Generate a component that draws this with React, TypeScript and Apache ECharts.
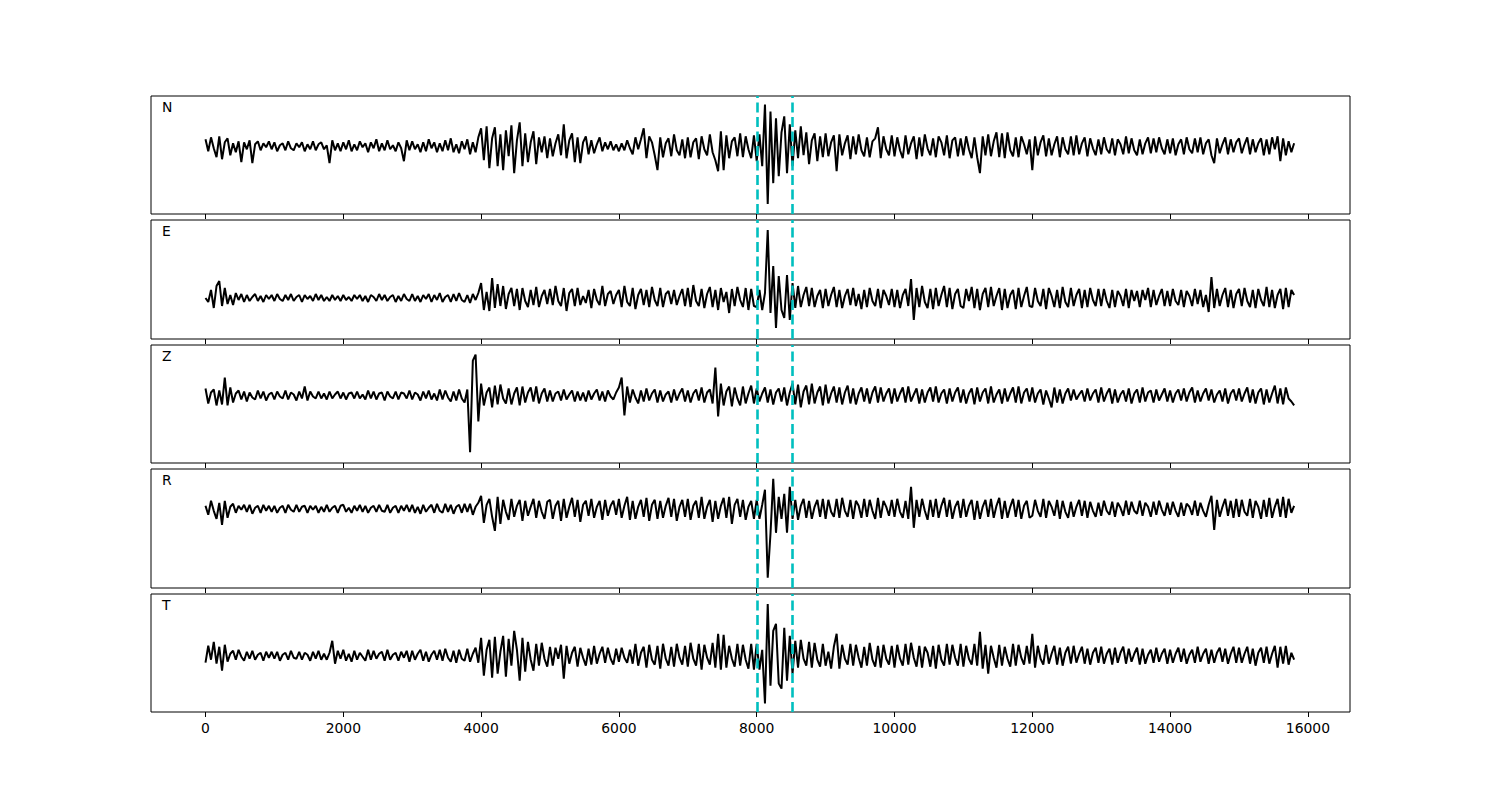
import React, { useEffect, useRef } from "react";
import * as echarts from "echarts";

// Seismogram traces: one value every SAMPLE_STEP samples, deflection
const SAMPLE_STEP = 40;
const CHANNELS = ["N", "E", "Z", "R", "T"];

const N_TRACE = [
  7, -5, 9, -2, -11, 10, -13, 4, 8, -9, 3, -6, 5, -16, 4, -3, 6, -17, 2, 5, -4, 3, -1, 5, -3,
  4, -5, 1, 3, -4, 5, -2, -4, 3, -1, 4, -5, 2, -3, 5, -4, 2, 4, -3, 1, -17, 6, -4, 3, -5,
  4, -3, 6, -5, 2, -4, 5, -1, 3, -6, 4, -2, 7, -5, 3, -4, 6, -3, 1, -5, 4, -2, -15, 6, -4,
  5, -3, 2, -6, 4, -5, 7, -2, 4, -6, 3, -5, 6, -4, 8, -6, 2, -7, 5, -3, 7, -8, 4, -6, 9,
  18, -14, 20, -22, 8, 19, -20, 12, -24, 16, -10, 21, -27, 6, 24, -20, 13, -16, 4, 15, -18, 9, -6, 10, -12,
  8, -10, 3, 12, -9, 22, -12, 6, 13, -16, 9, -17, 4, 10, -8, 6, -7, 2, 9, -5, 4, -3, 5, -4, 2,
  -5, 3, -4, 6, -2, -8, 9, -3, 7, 18, -12, 10, 4, -9, -24, 9, -11, 3, 8, -10, 12, -4, -9, 7, -12,
  9, -11, 4, 8, -13, 10, -3, -9, 12, -6, -14, -25, 15, -24, 11, -12, 5, 9, -10, 13, -11, 10, -3, -12, 11,
  -15, 12, -20, 42, -58, 35, -37, 28, -30, 14, 30, -27, 22, -20, 16, -12, 20, -9, 14, -18, 6, 13, -15, 10, -11,
  13, -10, 4, 11, -25, 12, -9, 3, 11, -13, 10, -8, 12, -4, -10, 9, -11, 5, 8, 19, -12, 10, -3, -9, 11,
  -10, 9, -4, -12, 11, -8, 3, 10, -13, 9, -10, 12, -2, -9, 8, -11, 10, 4, -9, 11, -12, 6, 9, -10, 8,
  -9, 10, -3, -12, 9, -11, -27, 10, -9, 12, -10, 5, 14, -11, 13, -12, 14, -4, -10, 9, -11, 10, 2, -8, 7,
  -24, 10, -9, 4, 11, -10, 8, -9, 2, 10, -11, 9, -3, -8, 10, -9, 11, -8, 3, 9, -10, 8, -2, -9, 7,
  -8, 9, -3, -7, 8, -9, 7, 2, -8, 10, -7, 8, -4, -9, 7, -8, 3, 9, -7, 8, -6, 9, -2, -8, 7,
  -7, 8, -9, 2, 7, -8, 9, -3, -7, 8, -6, 9, -8, 3, 7, -9, -17, 8, -7, 2, 9, -8, 7, -6, 4,
  8, -7, 2, 9, -8, 7, -6, 3, 8, -9, 7, -8, 9, -3, 10, -15, 8, -9, 5, -6, 3,
];

const E_TRACE = [
  0, -4, 8, -10, 12, 17, -8, 10, -6, 3, -7, 5, -2, 4, -4, 3, -3, 1, 4, -3, 2, -4, 3, -1, 3,
  -3, 4, -1, -3, 3, -2, 4, -3, 1, 3, -4, 3, -1, 2, -3, 4, -2, 3, -3, 1, -3, 3, -2, 2, -3,
  3, -2, 1, -3, 3, -1, 3, -3, 2, -4, 3, 1, -3, 4, -2, 3, -3, 1, 3, -4, 2, -3, 4, -1, -3,
  4, -3, 2, -4, 3, -1, 4, -4, 3, -2, 5, -4, 1, 3, -4, 4, -3, 5, -2, -4, 3, -5, 4, -2, 5,
  15, -12, 6, -13, 20, -10, 14, -8, 12, -11, 4, 10, -8, 9, -12, 10, -3, -9, 8, -7, 11, -9, 2, 8, -6,
  9, -7, 12, -3, -8, 10, -13, 5, 9, -8, 10, -7, 2, -5, 8, -10, 9, -2, -7, 12, -8, 4, 7, -6, 3,
  8, -9, 12, -4, -8, 10, -11, 3, 9, -7, 8, -9, 11, -2, -8, 10, -9, 4, 7, -6, 8, -7, 2, 9, -8,
  10, -9, 13, -3, -8, 9, -10, 4, 11, -9, 8, -12, 10, -4, 6, -15, 9, -8, 11, -2, -9, 10, -12, 9, -8,
  -9, 8, -12, 5, 68, -15, 32, -30, 22, -12, -20, 23, -22, 15, -10, 12, -9, 3, 11, -8, 10, -9, 2, 8, -10,
  9, -8, 3, 11, -9, 8, -10, 2, 9, -7, 10, -8, 4, -11, 8, -9, 10, -3, -8, 9, -10, 8, 2, -7, 9,
  -9, 8, -10, 3, 9, -8, 19, -22, 10, -9, 12, -4, -10, 9, -11, 10, -8, 3, 12, -9, 10, -11, 4, 9, -8,
  -10, 9, -3, 11, -10, 9, -12, 4, 10, -9, 11, -8, 2, 10, -12, 9, -10, 3, 8, -11, 10, -9, 2, 11, -8,
  -9, 10, -3, -8, 9, -11, 10, 2, -9, 8, -10, 11, -4, -9, 10, -8, 3, 9, -10, 8, -9, 10, -2, -8, 9,
  -8, 9, -3, -10, 8, -9, 7, 2, -8, 9, -10, 8, -3, 7, -9, 8, -2, 10, -9, 8, -7, 2, 9, -8, 7,
  -8, 9, -3, -7, 8, -9, 7, 2, -8, 9, -6, 8, -9, 3, -14, 21, -10, 9, -8, 3, 10, -9, 8, -10, 4,
  9, -8, 10, -3, -9, 8, -10, 9, -2, -8, 11, -9, 8, -10, 3, 9, -11, 10, -9, 8, 3,
];

const Z_TRACE = [
  7, -8, 3, 6, -10, 5, -9, 18, -10, 8, -7, 2, 5, -4, 4, -6, 3, -2, -4, 5, -3, 4, -5, 1, 3,
  -4, 4, -1, -3, 5, -4, 3, 1, -5, 4, -3, 9, -5, 4, -1, -3, 4, -3, 2, -4, 4, -3, 1, 4, -3,
  3, -4, 2, 3, -3, 4, -3, 1, -4, 5, -3, 4, -4, 2, 3, -5, 4, -1, -3, 4, -4, 3, 2, -3, 5,
  -4, 3, 1, -5, 4, -3, 5, -4, 2, -5, 6, -4, 5, -2, -6, 4, -5, 6, -3, -7, 6, -57, 35, 41, -26,
  12, -10, 3, 8, -12, 10, -9, 11, -3, -8, 7, -9, 2, 8, -10, 9, -7, 3, 8, -6, 9, -8, 2, 7, -6,
  5, -6, 2, 4, -5, 6, -4, 1, 5, -6, 4, -5, 3, -6, 5, -4, 2, 6, -5, 4, -6, 5, -1, -4, 3,
  8, 18, -20, 9, -7, 6, -2, -8, 5, -6, 7, -5, 2, 6, -7, 5, -6, 1, 4, -7, 6, -5, 2, 7, -6,
  5, -7, 2, 6, -5, 8, -7, 3, 6, -8, 28, -21, 12, -10, 4, 9, -11, 8, -3, -10, 9, -8, 2, 10, -8,
  7, -6, 2, 8, -7, 6, -9, 3, 7, -6, 8, -10, 3, 12, -9, 11, -12, 4, 10, -9, 12, -8, 3, 9, -10,
  11, -8, 2, 9, -7, 8, -9, 3, 10, -8, 7, -9, 2, 8, -6, 7, -8, 3, 9, -7, 8, -6, 2, 7, -8,
  7, -6, 2, 8, -7, 9, -6, 1, 7, -8, 6, -7, 3, 8, -6, 9, -7, 2, 6, -8, 7, -6, 3, 8, -7,
  6, -8, 2, 7, -9, 8, -6, 3, 7, -8, 9, -7, 1, 6, -8, 7, -6, 2, 8, -7, 9, -8, 3, 7, -6,
  8, -7, 2, 6, -9, 5, -3, -12, 8, -7, 6, -8, 2, 7, -5, 6, -4, 1, 5, -6, 7, -5, 2, 6, -7,
  8, -6, 2, 7, -8, 6, -7, 1, 5, -6, 7, -8, 2, 6, -7, 8, -6, 3, 5, -7, 6, -5, 1, 7, -6,
  5, -7, 2, 6, -5, 7, -6, 3, 8, -7, 5, -6, 2, 7, -5, 6, -7, 1, 5, -6, 7, -8, 2, 6, -5,
  7, -6, 2, 8, -7, 6, -8, 3, 7, -9, 6, -7, 2, 10, -8, 7, -9, 8, -3, -6, -10,
];

const R_TRACE = [
  3, -6, 8, -2, -10, 6, -16, 8, -9, 2, 5, -4, 3, -1, 4, -3, 4, -5, 1, 3, -4, 4, -2, 3, -3,
  3, -4, 1, 3, -4, 4, -1, -3, 4, -3, 2, 3, -4, 3, -1, 3, -4, 2, -3, 4, -3, 1, 3, -4, 3,
  4, -3, 1, -4, 3, -2, 4, -3, 3, -4, 1, 3, -3, 4, -2, -3, 4, -4, 1, 3, -4, 3, -2, 4, -3,
  4, -4, 2, -5, 4, -3, 1, 4, -4, 5, -2, -4, 5, -3, 4, -5, 2, 4, -4, 5, -3, 5, -6, 2, 6,
  13, -14, 4, 10, -8, -22, 12, -15, 9, -3, -11, 10, -8, 3, 9, -12, 8, -7, 2, 10, -9, 8, -3, -10, 7,
  9, -10, 3, 8, -12, 10, -9, 2, 11, -8, 9, -13, 4, 8, -7, 10, -9, 2, 8, -11, 9, -7, 3, 8, -6,
  10, -9, 3, 12, -11, 8, -10, 2, 9, -8, 11, -12, 4, 9, -10, 8, -9, 3, 11, -8, 10, -12, 2, 9, -8,
  10, -11, 3, 8, -9, 12, -10, 2, 9, -13, 8, -10, 3, 11, -9, 12, -15, 4, 10, -8, 9, -11, 2, 8, -10,
  9, -10, 4, 19, -69, -25, 30, -24, 12, -10, 15, -24, 22, -10, 9, -11, 3, 10, -9, 8, -10, 2, 9, -8, 10,
  -10, 9, -3, -8, 10, -9, 11, -2, -8, 9, -10, 8, 3, -9, 10, -8, 9, -2, -10, 11, -9, 8, 2, -7, 9,
  -8, 10, -3, -9, 8, -10, 22, -19, 9, -8, 10, -2, -11, 9, -8, 10, -9, 3, 11, -8, 9, -10, 2, 8, -9,
  10, -8, 3, 9, -11, 8, -10, 2, 9, -8, 10, -9, 3, 11, -10, 8, -9, 2, 10, -8, 9, -10, 3, 8, -9,
  -7, 9, -2, -8, 10, -9, 8, 2, -7, 9, -10, 8, -3, -9, 7, -8, 2, 9, -7, 8, -9, 7, -2, -8, 6,
  -7, 8, -2, -6, 7, -8, 6, 1, -7, 8, -6, 7, -2, -5, 8, -7, 6, 2, -8, 7, -6, 8, -1, -7, 6,
  -6, 7, -2, -8, 6, -7, 5, 2, -6, 8, -7, 6, -2, -8, 4, 13, -21, 9, -8, 2, 10, -7, 8, -9, 10,
  -8, 9, -3, -7, 10, -9, 8, 2, -10, 9, -8, 11, -9, 2, 10, -8, 12, -9, 10, -4, 3,
];

const T_TRACE = [
  -7, 10, -4, 14, -8, 9, -15, 11, -6, 2, 5, -4, 6, -1, -5, 4, -3, 5, -4, 1, 3, -5, 4, -2, 4,
  -3, 4, -5, 1, 3, -4, 5, -2, -3, 4, -4, 3, 1, -5, 4, -3, 5, -4, 2, -4, 3, 15, -8, 5, -3,
  6, -5, 2, -6, 5, -4, 3, -1, -5, 6, -4, 5, -3, 2, 4, -5, 6, -4, 1, 3, -5, 4, -2, 5, -6,
  5, -4, 2, 6, -5, 4, -6, 1, 5, -4, 6, -5, 7, -2, -6, 5, -7, 6, -3, -5, 7, -6, 2, 8, -7,
  18, -20, 6, 16, -22, 19, -18, 4, 20, -21, 17, -10, 25, 6, -25, 18, -16, 14, -4, -15, 12, -10, 13, -3, -11,
  9, -10, 8, -3, 11, -23, 10, -8, 3, 9, -11, 8, -2, -10, 7, -9, 10, -8, 2, 9, -7, 8, -3, -9, 7,
  -6, 8, -2, -7, 6, -8, 12, -10, 3, 9, -12, 11, -4, -9, 10, -13, 12, -3, -10, 9, -11, 12, -2, -9, 10,
  -11, 13, -3, -10, 12, -14, 11, -2, -9, 13, -12, 22, -14, 21, -12, 10, -3, -11, 12, -10, 11, -4, -13, 12, -14,
  12, -14, 6, -48, 52, -30, 25, 32, -28, -33, 28, -25, 20, -18, 15, -12, 16, -3, -10, 14, -12, 13, -4, -11, 12,
  -10, 4, -13, 9, 22, -13, 11, -3, -9, 12, -10, 11, -2, -12, 9, -10, 13, -4, -11, 10, -12, 11, -3, -9, 10,
  -12, 11, -3, -10, 12, -9, 13, -2, -11, 10, -12, 9, 3, -11, 10, -13, 11, -4, -10, 12, -9, 11, -2, -10, 12,
  -11, 10, -3, -9, 12, -10, 24, -13, 11, -18, 10, -2, -12, 11, -10, 9, -3, -11, 12, -10, 11, -2, -9, 10, -8,
  22, -12, 10, -3, -9, 11, -8, 2, 10, -9, 8, -10, 3, 9, -8, 10, -7, 2, 9, -8, 7, -9, 3, 8, -7,
  9, -8, 2, 7, -9, 8, -7, 3, 9, -8, 7, -6, 2, 8, -9, 7, -8, 1, 6, -7, 8, -6, 2, 7, -8,
  6, -7, 2, 8, -6, 7, -8, 1, 6, -7, 9, -6, 2, 7, -8, 6, -7, 3, 8, -6, 7, -8, 2, 9, -7,
  8, -7, 2, 9, -8, 7, -10, 3, 8, -7, 9, -8, 2, 10, -12, 9, -8, 10, -9, 3, -4,
];

const TRACES = [N_TRACE, E_TRACE, Z_TRACE, R_TRACE, T_TRACE];
// Phase picks (dashed cyan lines)
const PICKS = [8010, 8515];
const X_TICKS = [0, 2000, 4000, 6000, 8000, 10000, 12000, 14000, 16000];
const X_RANGE = [-791, 16611];
const Y_RANGES = [
  [-68, 50.5],
  [-41, 78],
  [-67.8, 50.7],
  [-79.2, 39.8],
  [-56.5, 62],
];

// layout
const PANEL_TOPS = [96, 220, 345, 469, 594];
const PANEL_HEIGHTS = [118, 119, 118, 119, 118];
const FONT = "DejaVu Sans";

export default function App() {
  const ref = useRef<HTMLDivElement>(null);
  useEffect(() => {
    if (!ref.current) return;
    const chart = echarts.init(ref.current, undefined, { renderer: "svg" });
    const grids = PANEL_TOPS.map((top, i) => ({
      left: 151,
      top,
      width: 1199,
      height: PANEL_HEIGHTS[i],
      show: true,
      borderColor: "#000",
      borderWidth: 1,
      backgroundColor: "transparent",
    }));
    const xAxes = CHANNELS.map((_, i) => ({
      type: "value",
      gridIndex: i,
      position: "bottom",
      min: X_RANGE[0],
      max: X_RANGE[1],
      axisLine: { show: false, onZero: false },
      splitLine: { show: false },
      axisTick: {
        show: true,
        length: 5,
        inside: false,
        customValues: X_TICKS,
        lineStyle: { color: "#000", width: 1 },
      },
      axisLabel: {
        show: i === CHANNELS.length - 1,
        customValues: X_TICKS,
        formatter: (v: number) => String(v),
        margin: 9,
        color: "#000",
        fontFamily: FONT,
        fontSize: 13.9,
        showMinLabel: true,
        showMaxLabel: true,
      },
    }));
    const yAxes = CHANNELS.map((_, i) => ({
      type: "value",
      gridIndex: i,
      min: Y_RANGES[i][0],
      max: Y_RANGES[i][1],
      show: false,
      splitLine: { show: false },
    }));
    const series = CHANNELS.map((name, i) => ({
      name,
      type: "line",
      xAxisIndex: i,
      yAxisIndex: i,
      data: TRACES[i].map((v, k) => [k * SAMPLE_STEP, v]),
      showSymbol: false,
      symbol: "none",
      lineStyle: { color: "#000", width: 2 },
      markLine: {
        silent: true,
        symbol: ["none", "none"],
        label: { show: false },
        lineStyle: { color: "#00bfbf", width: 2.6, type: [10, 4.5] },
        data: PICKS.map((p) => ({ xAxis: p })),
      },
      z: 2,
    }));
    const graphic = CHANNELS.map((name, i) => ({
      type: "text",
      x: 162,
      y: PANEL_TOPS[i] + 4,
      style: {
        text: name,
        fill: "#000",
        fontFamily: FONT,
        fontSize: 13.9,
        verticalAlign: "top",
      },
    }));
    chart.setOption({
      animation: false,
      backgroundColor: "#fff",
      grid: grids,
      xAxis: xAxes,
      yAxis: yAxes,
      series,
      graphic,
    });
    return () => chart.dispose();
  }, []);
  return (
    <div
      ref={ref}
      style={{ position: "absolute", left: 0, top: 0, width: 1500, height: 800 }}
    />
  );
}
